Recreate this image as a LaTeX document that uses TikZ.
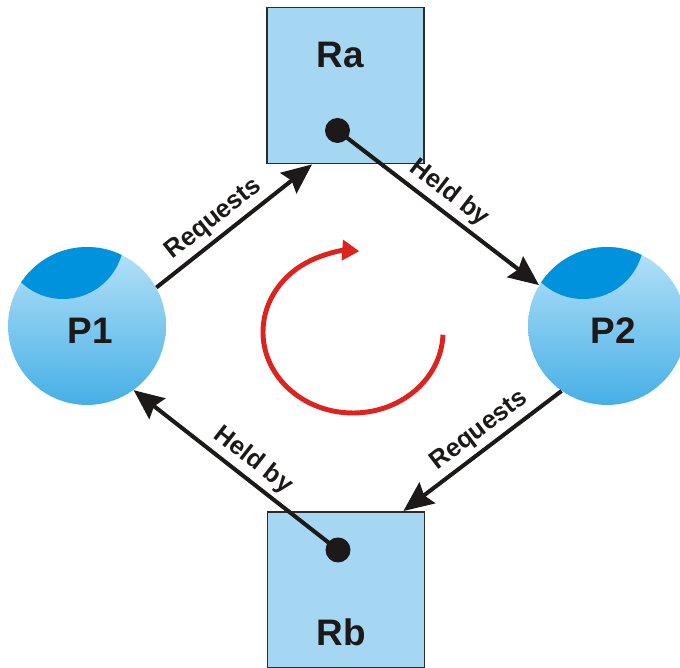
\documentclass[tikz,border=0pt]{standalone}
\usepackage{fontspec}
\setmainfont{Liberation Sans}
\usetikzlibrary{arrows.meta}
\definecolor{resfill}{RGB}{165,215,243}
\definecolor{boxline}{RGB}{45,42,42}
\definecolor{plight}{RGB}{182,226,248}
\definecolor{pmid}{RGB}{98,187,236}
\definecolor{pdeep}{RGB}{70,175,230}
\definecolor{pcap}{RGB}{0,146,220}
\definecolor{inkblack}{RGB}{30,25,25}
\definecolor{cyclered}{RGB}{222,35,30}

\begin{document}
\begin{tikzpicture}[x=0.02cm, y=0.02cm,
        res/.style={draw=boxline, line width=1.1pt, fill=resfill, minimum width=3.14cm, minimum height=3.12cm, inner sep=0pt},
        proc/.style={circle, minimum size=3.16cm, inner sep=0pt, top color=plight, middle color=pmid, bottom color=pdeep,
            path picture={\fill[pcap] ([xshift=-0.48cm, yshift=1.76cm]path picture bounding box.center) circle (1.22cm);}},
        bigtext/.style={font=\fontsize{21}{25}\selectfont\bfseries, text=inkblack, inner sep=0pt},
        edgetext/.style={font=\fontsize{14.5}{17}\selectfont\bfseries, text=inkblack, sloped, above, inner sep=2.5pt},
        waitarrow/.style={line width=2.3pt, draw=inkblack, -{Stealth[length=0.6cm, width=0.52cm, inset=0.08cm]}},
        handle/.style={circle, fill=inkblack, minimum size=0.5cm, inner sep=0pt},
        cyclearrow/.style={line width=2.8pt, draw=cyclered, -{Triangle[length=0.34cm, width=0.4cm]}}]
    \useasboundingbox (0,0) rectangle (680,668);

    % resources
    \node[res] (Ra) at (345.5,582.5) {};
    \node[res] (Rb) at (346,78) {};
    \node[bigtext] (Ra-name) at (340,613) {Ra};
    \node[bigtext] (Rb-name) at (341,36) {Rb};

    % processes
    \node[proc] (P1) at (87,342) {};
    \node[proc] (P2) at (607,342) {};
    \node[bigtext] (P1-name) at (90,337) {P1};
    \node[bigtext] (P2-name) at (613,337) {P2};

    % holders
    \node[handle] (Ra-hold) at (337.5,537.5) {};
    \node[handle] (Rb-hold) at (338,118) {};

    % wait-for edges
    \draw[waitarrow] (P1.29) -- (Ra.247) node[edgetext, pos=0.44] {Requests};
    \draw[waitarrow] (Ra-hold.center) -- (P2.149) node[edgetext, pos=0.5] {Held by};
    \draw[waitarrow] (P2.235) -- (Rb.54) node[edgetext, pos=0.45] {Requests};
    \draw[waitarrow] (Rb-hold.center) -- (P1.-54) node[edgetext, pos=0.47] {Held by};

    % deadlock cycle
    \coordinate (cycle-centre) at (353,336);
    \draw[cyclearrow] (cycle-centre) ++(-2:90 and 81) arc[start angle=-2, end angle=-274, x radius=90, y radius=81];
\end{tikzpicture}
\end{document}
